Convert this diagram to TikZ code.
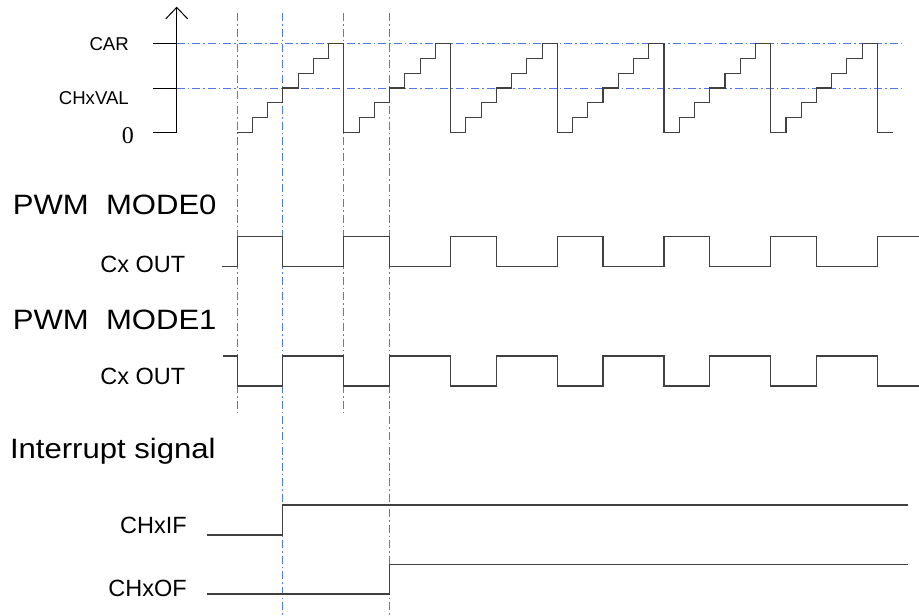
\documentclass[tikz,border=0pt]{standalone}
\usepackage{fontspec}
\setmainfont{Liberation Sans}
\newfontfamily\numfont{Liberation Serif}
\usetikzlibrary{arrows.meta}
\definecolor{guideblue}{RGB}{80,120,235}

\begin{document}
\begin{tikzpicture}[
        x=1pt, y=-1pt,
        wave/.style={draw=black!75, line width=1.1pt},
        guide/.style={draw=guideblue, line width=0.9pt, dash pattern=on 8pt off 3pt on 1.5pt off 3pt},
        lvl/.style={anchor=base east, inner sep=0pt, font=\fontsize{18.6}{21}\selectfont},
        lbl/.style={anchor=base east, inner sep=0pt, font=\fontsize{23.5}{26}\selectfont},
        title/.style={anchor=base west, inner sep=0pt, font=\fontsize{28}{30}\selectfont},
    ]
    \path[fill=white] (0,0) rectangle (919,616);
    \useasboundingbox (0,0) rectangle (919,616);

    \node[lvl] (car) at (129,50.7) {CAR};
    \node[lvl] (chxval) at (129,104) {CHxVAL};
    \node[lvl, font=\numfont\fontsize{24}{26}\selectfont] (zero) at (134,143.3) {0};
    \node[title] (mode0) at (12.6,214.3) {\scalebox{1.11}[1]{PWM\ \ MODE0}};
    \node[lbl] (out0) at (185.5,272.7) {Cx OUT};
    \node[title] (mode1) at (12.6,329) {\scalebox{1.11}[1]{PWM\ \ MODE1}};
    \node[lbl] (out1) at (185.5,384) {Cx OUT};
    \node[title] (irq) at (9.8,458.3) {\scalebox{1.11}[1]{Interrupt signal}};
    \node[lbl] (chxif) at (187,533.3) {CHxIF};
    \node[lbl] (chxof) at (187,596) {CHxOF};

    \foreach \y in {43.3,88} \draw[guide] (176.7,\y) -- (903,\y);
    \foreach \x/\e in {237.2/415,282.9/616,343.9/415,389.6/616} \draw[guide] (\x,13) -- (\x,\e);

    \coordinate (orig) at (176.7,132.7);
    \coordinate (ytop) at (176.7,6.7);
    \draw[line width=1pt, -{Straight Barb[length=11.5pt,width=22pt]}] (orig) -- (ytop);
    \foreach \y in {43.3,88,132.7} \draw[line width=1pt] (153,\y) -- (176.7,\y);

    \foreach \s in {237.2,343.9,450.6,557.3,664.0,770.7}
        \draw[wave] (\s,132.7) \foreach \j in {1,...,6} { -| ({\s+\j*15.243},{132.7-\j*14.9}) } -| ({\s+106.7},132.7);
    \draw[wave] (877.4,132.7) -- (892.6,132.7);

    \draw[wave] (221.7,266.7) \foreach \k in {0,...,5} { -| ({237.2+\k*106.7},236.7) -| ({282.9+\k*106.7},266.7) } -| (877.4,236.7) -- (919,236.7);
    \draw[wave] (222.7,356) \foreach \k in {0,...,5} { -| ({237.2+\k*106.7},386) -| ({282.9+\k*106.7},356) } -| (877.4,386) -- (919,386);

    \draw[wave] (206.7,535) -| (282.9,505) -- (908,505);
    \draw[wave] (206.7,594) -| (389.6,564.3) -- (908,564.3);
\end{tikzpicture}
\end{document}
